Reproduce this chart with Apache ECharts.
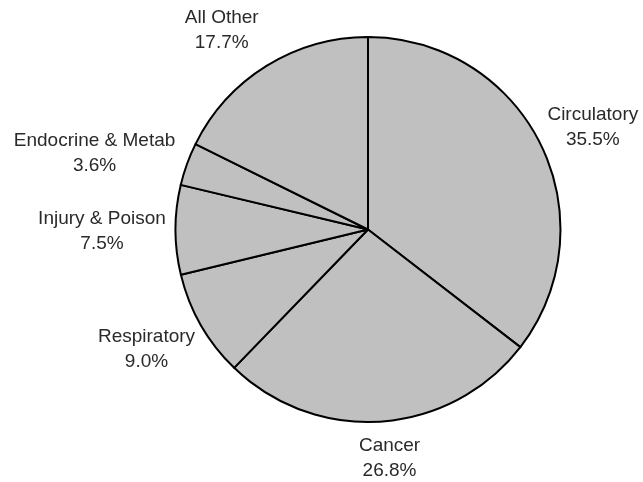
<!DOCTYPE html>
<html>
<head>
<meta charset="utf-8">
<script src="https://cdn.jsdelivr.net/npm/echarts@6/dist/echarts.min.js"></script>
<style>
html,body{margin:0;padding:0;background:#fff;}
#chart{width:643px;height:482px;}
</style>
</head>
<body>
<div id="chart"></div>
<script>
// Data
const categories = ['Circulatory', 'Cancer', 'Respiratory', 'Injury & Poison', 'Endocrine & Metab', 'All Other'];
const shares = [35.5, 26.8, 9.0, 7.5, 3.6, 17.7];

// Label placement (polar, relative to pie centre): distance and angle tweak in degrees
const labelDist = [247, 229.5, 251.7, 266, 284, 247.5];
const labelAngleShift = [1.7, -1.25, 1.4, -0.2, -4.2, -4.4];

const CX = 368, CY = 229.5, R = 192.5;

const total = shares.reduce((a, b) => a + b, 0);
const midAngles = [];
let acc = 0;
shares.forEach(v => { midAngles.push((acc + v / 2) / total * 360); acc += v; });

const chart = echarts.init(document.getElementById('chart'), null, {renderer: 'canvas'});
chart.setOption({
  animation: false,
  backgroundColor: '#ffffff',
  series: [{
    type: 'pie',
    center: [CX, CY],
    radius: [0, R],
    startAngle: 90,
    clockwise: true,
    silent: true,
    avoidLabelOverlap: false,
    itemStyle: {color: '#c0c0c0', borderColor: '#000000', borderWidth: 2},
    label: {
      show: true,
      position: 'outside',
      formatter: p => p.name + '\n' + p.value.toFixed(1) + '%',
      fontFamily: '"Liberation Sans", Arial, sans-serif',
      fontSize: 19,
      lineHeight: 25,
      color: '#2a2a2a',
      align: 'center'
    },
    labelLine: {show: false},
    labelLayout: function (p) {
      const i = p.dataIndex;
      const a = (midAngles[i] + labelAngleShift[i]) * Math.PI / 180;
      const d = labelDist[i];
      return {
        x: CX + d * Math.sin(a),
        y: CY - d * Math.cos(a),
        align: 'center',
        verticalAlign: 'middle'
      };
    },
    data: categories.map((c, i) => ({name: c, value: shares[i]}))
  }]
});
</script>
</body>
</html>
